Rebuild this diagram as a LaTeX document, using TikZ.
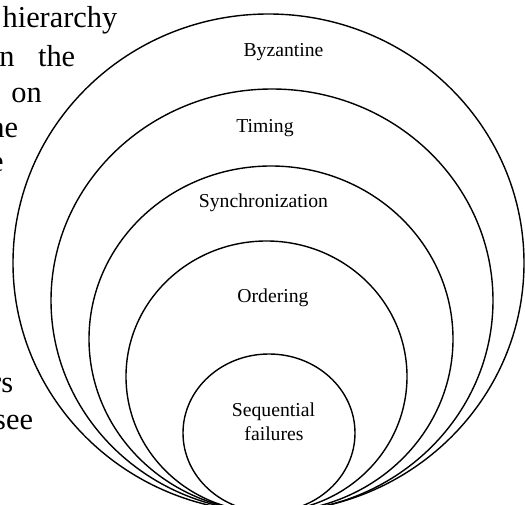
\documentclass[tikz,border=0pt]{standalone}
\usepackage{fontspec}
\setmainfont{Liberation Serif}
\begin{document}
\begin{tikzpicture}[x=1pt,y=1pt,
  ring/.style={line width=1.4pt},
  lab/.style={anchor=base,inner sep=0pt,font=\fontsize{19.7}{23}\selectfont},
  para/.style={anchor=base west,inner sep=0pt,font=\fontsize{30.4}{36}\selectfont}]
\useasboundingbox (0,0) rectangle (525,504);
\clip (0,0) rectangle (525,504);
% paragraph fragments
\node[para] (p1) at (2.4,476) {hierarchy};
\node[para] (p2) at (-0.8,437.3) {n\hskip 23.5pt the};
\node[para] (p3) at (11.3,401) {on};
\node[para] (p4) at (-10.7,366) {he};
\node[para] (p5) at (-10,332) {e};
\node[para] (p6) at (-9,112) {rs};
\node[para] (p7) at (-6,75) {see};
% nested ellipses
\coordinate (cByz) at (268.5,241);
\coordinate (cTim) at (272,203.5);
\coordinate (cSyn) at (271,165);
\coordinate (cOrd) at (266.5,127.5);
\coordinate (cSeq) at (269,71);
\draw[ring] (cByz) ellipse [x radius=255.5, y radius=249];
\draw[ring] (cTim) ellipse [x radius=221, y radius=211.5];
\draw[ring] (cSyn) ellipse [x radius=182, y radius=173];
\draw[ring] (cOrd) ellipse [x radius=140.5, y radius=135.5];
\draw[ring] (cSeq) ellipse [x radius=86, y radius=79];
% labels
\node[lab] (lByz) at (283.5,447) {Byzantine};
\node[lab] (lTim) at (265,371) {Timing};
\node[lab] (lSyn) at (263.5,296) {Synchronization};
\node[lab] (lOrd) at (273,201) {Ordering};
\node[lab] (lSeqA) at (273.5,87.3) {Sequential};
\node[lab] (lSeqB) at (274,63.3) {failures};
\end{tikzpicture}
\end{document}
